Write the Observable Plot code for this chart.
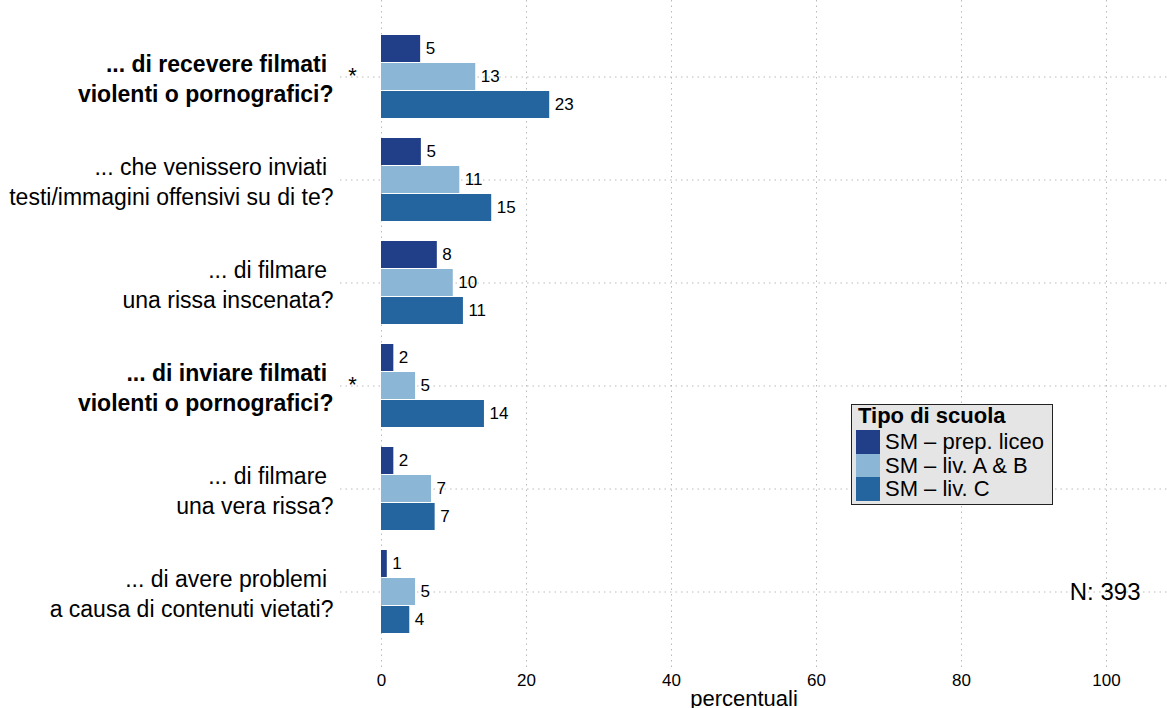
<!DOCTYPE html>
<html>
<head>
<meta charset="utf-8">
<script src="https://cdn.jsdelivr.net/npm/d3@7"></script>
<script src="https://cdn.jsdelivr.net/npm/@observablehq/plot@0.6"></script>
<style>
  html, body { margin: 0; padding: 0; background: #fff; }
  #wrap { position: relative; width: 1167px; height: 708px; overflow: hidden; font-family: "Liberation Sans", Arial, Helvetica, sans-serif; }
  #legend { position: absolute; left: 851px; top: 404px; width: 200px; height: 99px; background: #e5e5e5; border: 1px solid #222; box-sizing: content-box; overflow: hidden; }
  #legend .title { position: absolute; left: 6px; top: -3px; font-weight: bold; font-size: 22px; line-height: 28px; color: #000; white-space: nowrap; }
  #legend .item { position: absolute; left: 4px; height: 24px; display: flex; align-items: center; font-size: 22px; color: #000; white-space: nowrap; }
  #legend .sw { width: 24px; height: 24px; margin-right: 5px; flex: none; }
</style>
</head>
<body>
<div id="wrap"></div>
<script>
const questions = [
  "... di recevere filmati\u00a0\nviolenti o pornografici?",
  "... che venissero inviati\u00a0\ntesti/immagini offensivi su di te?",
  "... di filmare\u00a0\nuna rissa inscenata?",
  "... di inviare filmati\u00a0\nviolenti o pornografici?",
  "... di filmare\u00a0\nuna vera rissa?",
  "... di avere problemi\u00a0\na causa di contenuti vietati?"
];
const boldQuestion = [true, false, false, true, false, false];
const starQuestion = [true, false, false, true, false, false];
const series = ["SM – prep. liceo", "SM – liv. A & B", "SM – liv. C"];
const colors = ["#213f89", "#8cb6d6", "#2465a0"];
const prepLiceo = [5.4, 5.5, 7.7, 1.7, 1.7, 0.8];
const livAB = [13.0, 10.8, 9.9, 4.7, 6.9, 4.7];
const livC = [23.2, 15.2, 11.3, 14.2, 7.4, 3.9];
const labelsPrep = [5, 5, 8, 2, 2, 1];
const labelsAB = [13, 11, 10, 5, 7, 5];
const labelsC = [23, 15, 11, 14, 7, 4];
const xTicks = [0, 20, 40, 60, 80, 100];
const xLabel = "percentuali";
const legendTitle = "Tipo di scuola";
const nText = "N: 393";

const seriesValues = [prepLiceo, livAB, livC];
const seriesLabels = [labelsPrep, labelsAB, labelsC];
const barH = 28;
const insets = [[0, 2 * barH], [barH, barH], [2 * barH, 0]];
const offsets = [-barH, 0, barH];

const rows = seriesValues.map((vals, s) => vals.map((v, i) => ({q: questions[i], v, lab: seriesLabels[s][i], s: series[s]})));

const marks = [
  Plot.gridX(xTicks, {stroke: "#bbb", strokeOpacity: 1, strokeDasharray: "1.5,4", strokeWidth: 1}),
  Plot.gridY(questions, {stroke: "#bbb", strokeOpacity: 1, strokeDasharray: "1.5,4", strokeWidth: 1, insetLeft: -41, insetRight: -61})
];
rows.forEach((data, s) => {
  marks.push(Plot.barX(data, {y: "q", x: "v", fill: "s", insetTop: insets[s][0], insetBottom: insets[s][1]}));
  marks.push(Plot.text(data, {y: "q", x: "v", text: "lab", dy: offsets[s], dx: 5, textAnchor: "start", fontSize: 17, fill: "#000"}));
});
const qStyle = {y: d => d, text: d => d, frameAnchor: "left", dx: -48, textAnchor: "end", lineAnchor: "middle", lineHeight: 1.3, fontSize: 23, fill: "#000"};
marks.push(Plot.text(questions.filter((q, i) => boldQuestion[i]), {...qStyle, fontWeight: "bold"}));
marks.push(Plot.text(questions.filter((q, i) => !boldQuestion[i]), qStyle));
marks.push(Plot.text(questions.filter((q, i) => starQuestion[i]), {y: d => d, text: () => "*", frameAnchor: "left", dx: -29, dy: -1, textAnchor: "middle", fontSize: 22, fill: "#000"}));
marks.push(Plot.axisX({ticks: xTicks, tickSize: 0, tickPadding: 5, fontSize: 17, label: null}));
marks.push(Plot.text([xLabel], {text: d => d, frameAnchor: "bottom", dy: 37, fontSize: 22, fill: "#000"}));
marks.push(Plot.text([nText], {text: d => d, y: () => questions[5], frameAnchor: "right", dx: 34, textAnchor: "end", fontSize: 24, fill: "#000"}));

const chart = Plot.plot({
  width: 1167,
  height: 708,
  marginLeft: 381,
  marginRight: 61,
  marginTop: 0,
  marginBottom: 40,
  style: {fontFamily: "Liberation Sans, Arial, Helvetica, sans-serif", background: "#fff", color: "#000"},
  x: {domain: [0, 100], axis: null},
  y: {domain: questions, axis: null, paddingInner: 0.192, paddingOuter: 0.308},
  color: {domain: series, range: colors},
  marks
});
const wrap = document.getElementById("wrap");
wrap.appendChild(chart);

const legend = document.createElement("div");
legend.id = "legend";
let html = `<div class="title">${legendTitle}</div>`;
series.forEach((s, i) => {
  html += `<div class="item" style="top:${25 + i * 23.5}px"><div class="sw" style="background:${colors[i]}"></div><span>${s}</span></div>`;
});
legend.innerHTML = html;
wrap.appendChild(legend);
</script>
</body>
</html>
